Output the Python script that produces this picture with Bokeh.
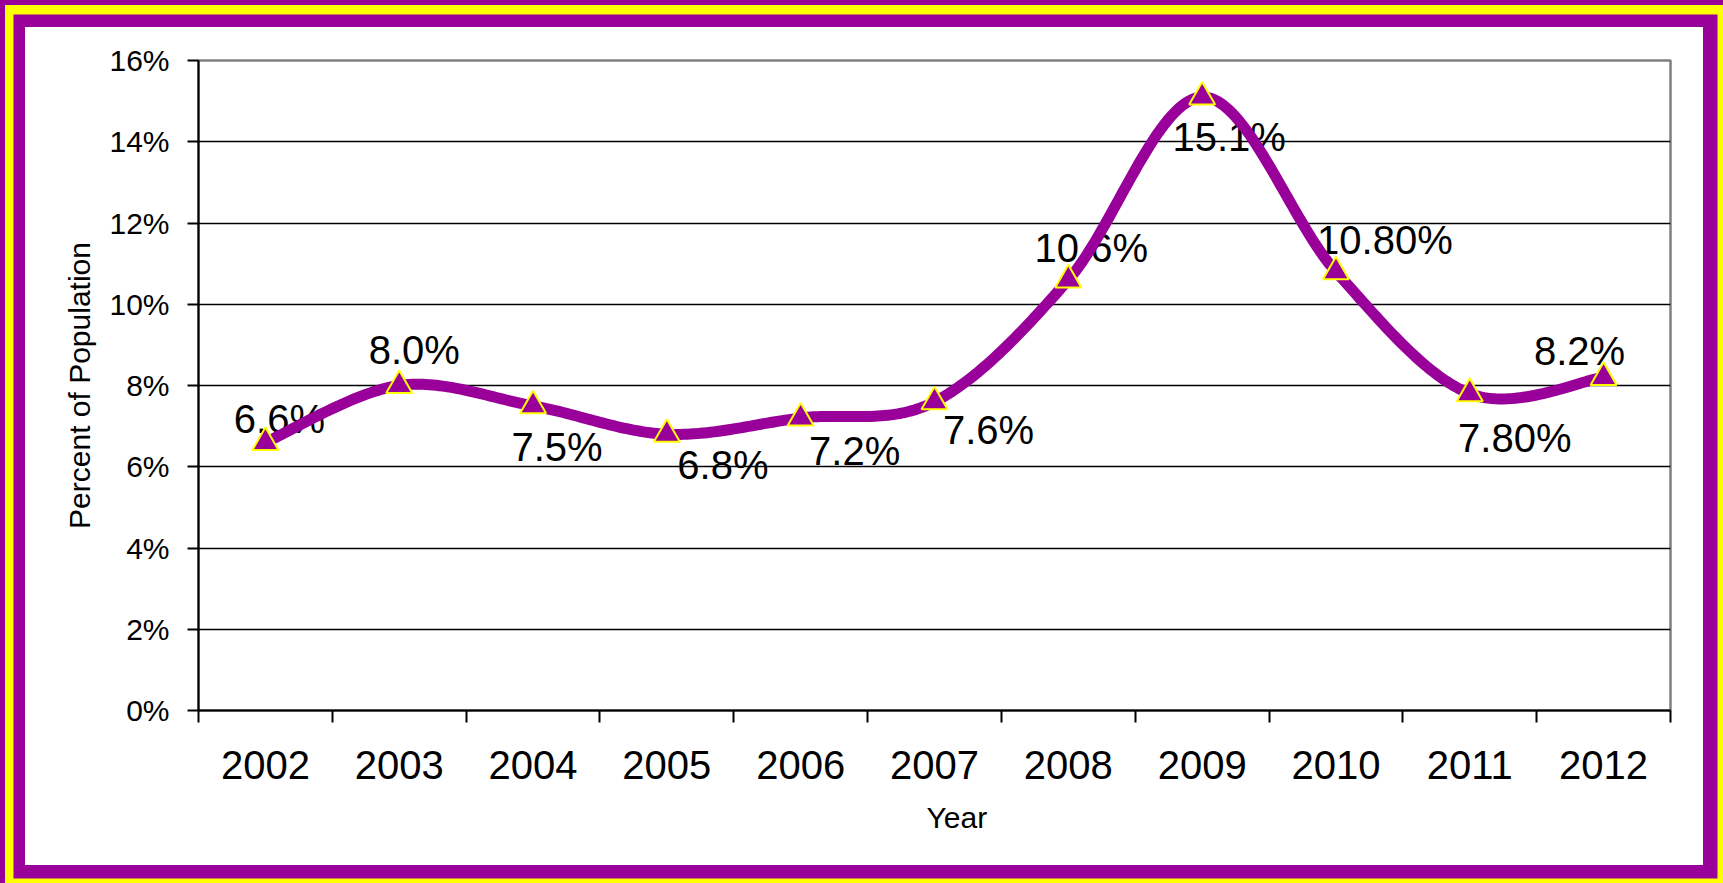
import numpy as np
from bokeh.plotting import figure
from bokeh.models import Range1d, FixedTicker, CustomJSTickFormatter, Title
from bokeh.core.properties import value
from bokeh.embed import file_html
from bokeh.resources import INLINE

# ---- data ----
years = ["2002", "2003", "2004", "2005", "2006", "2007", "2008", "2009", "2010", "2011", "2012"]
rates = [6.6, 8.0, 7.5, 6.8, 7.2, 7.6, 10.6, 15.1, 10.8, 7.8, 8.2]
rate_labels = ["6.6%", "8.0%", "7.5%", "6.8%", "7.2%", "7.6%", "10.6%", "15.1%", "10.80%", "7.80%", "8.2%"]
y_ticks = [0, 2, 4, 6, 8, 10, 12, 14, 16]

# label placement (pixels, relative to each point)
label_dx = [14, 15, 24, 56, 54, 54, 23, 27, 49, 45, -24]
label_dy = [-23, -36, 41, 31, 33, 28, -32, 40, -32, 44, -26]

PURPLE = "#990099"
YELLOW = "#FFFF00"
FONT = "Liberation Sans"

xc = np.arange(len(years)) + 0.5


def smooth(x, y, n=40):
    P = np.column_stack([x, y]).astype(float)
    out = []
    m = len(P)
    for i in range(m - 1):
        p0 = P[max(i - 1, 0)]
        p1 = P[i]
        p2 = P[i + 1]
        p3 = P[min(i + 2, m - 1)]
        c1 = p1 + (p2 - p0) / 6.0
        c2 = p2 - (p3 - p1) / 6.0
        t = np.linspace(0, 1, n, endpoint=(i == m - 2))[:, None]
        seg = ((1 - t) ** 3) * p1 + 3 * ((1 - t) ** 2) * t * c1 + 3 * (1 - t) * t ** 2 * c2 + t ** 3 * p2
        out.append(seg)
    arr = np.vstack(out)
    return arr[:, 0], arr[:, 1]


p = figure(
    width=1678, height=838,
    x_range=Range1d(0, len(years)), y_range=Range1d(y_ticks[0], y_ticks[-1]),
    output_backend="svg", toolbar_location=None,
    min_border_left=173, min_border_right=33, min_border_top=33, min_border_bottom=155,
)
p.margin = (27, 20, 18, 25)
p.styles = {"box-shadow": "1.5px 0.5px 0 13px #990099, 6px 4px 0 26px #ffff00, 5px 3px 0 30px #990099"}
p.background_fill_color = "white"
p.border_fill_color = "white"
p.outline_line_color = "#808080"
p.outline_line_width = 2.5

# y axis
p.yaxis.ticker = FixedTicker(ticks=y_ticks)
p.yaxis.formatter = CustomJSTickFormatter(code="return tick.toFixed(0) + '%';")
p.yaxis.major_label_text_font = FONT
p.yaxis.major_label_text_font_size = "30px"
p.yaxis.major_label_text_color = "black"
p.yaxis.major_tick_out = 11
p.yaxis.major_tick_in = 0
p.yaxis.major_tick_line_width = 2
p.yaxis.major_tick_line_color = "black"
p.yaxis.minor_tick_line_color = None
p.yaxis.axis_line_width = 2
p.yaxis.axis_line_color = "black"
p.yaxis.major_label_standoff = 18
p.yaxis.axis_label = "Percent of Population"
p.yaxis.axis_label_text_font = FONT
p.yaxis.axis_label_text_font_size = "30px"
p.yaxis.axis_label_text_font_style = "normal"
p.yaxis.axis_label_text_color = "black"
p.yaxis.axis_label_standoff = 10

# x axis
p.xaxis.ticker = FixedTicker(ticks=list(xc), minor_ticks=list(range(len(years) + 1)))
p.xaxis.formatter = CustomJSTickFormatter(args=dict(years=years), code="return years[Math.floor(tick)];")
p.xaxis.major_label_text_font = FONT
p.xaxis.major_label_text_font_size = "40px"
p.xaxis.major_label_text_color = "black"
p.xaxis.major_tick_line_color = None
p.xaxis.major_tick_out = 0
p.xaxis.major_tick_in = 0
p.xaxis.minor_tick_out = 12
p.xaxis.minor_tick_in = 0
p.xaxis.minor_tick_line_width = 2
p.xaxis.minor_tick_line_color = "black"
p.xaxis.axis_line_width = 2
p.xaxis.axis_line_color = "black"
p.xaxis.major_label_standoff = 28

# x-axis title (slightly right of centre, as in the original)
p.add_layout(Title(text="Year", align="left", offset=728, standoff=34,
                   text_font=FONT, text_font_size="30px", text_font_style="normal",
                   text_color="black"), "below")

# grid
p.xgrid.visible = False
p.ygrid.ticker = FixedTicker(ticks=y_ticks[1:-1])
p.ygrid.grid_line_color = "black"
p.ygrid.grid_line_width = 1.5

# data labels (under the line)
p.text(x=xc, y=rates, text=rate_labels, x_offset=label_dx, y_offset=label_dy,
       text_align="center", text_baseline="alphabetic",
       text_font=value(FONT), text_font_size="40px", text_color="black")

# smoothed line
sx, sy = smooth(xc, rates)
p.line(sx, sy, line_color=PURPLE, line_width=11, line_cap="round", line_join="round")

# markers
p.scatter(xc, rates, marker="triangle", size=26, fill_color=PURPLE, line_color=YELLOW, line_width=2)

open("out.html", "w").write(file_html(p, INLINE))
